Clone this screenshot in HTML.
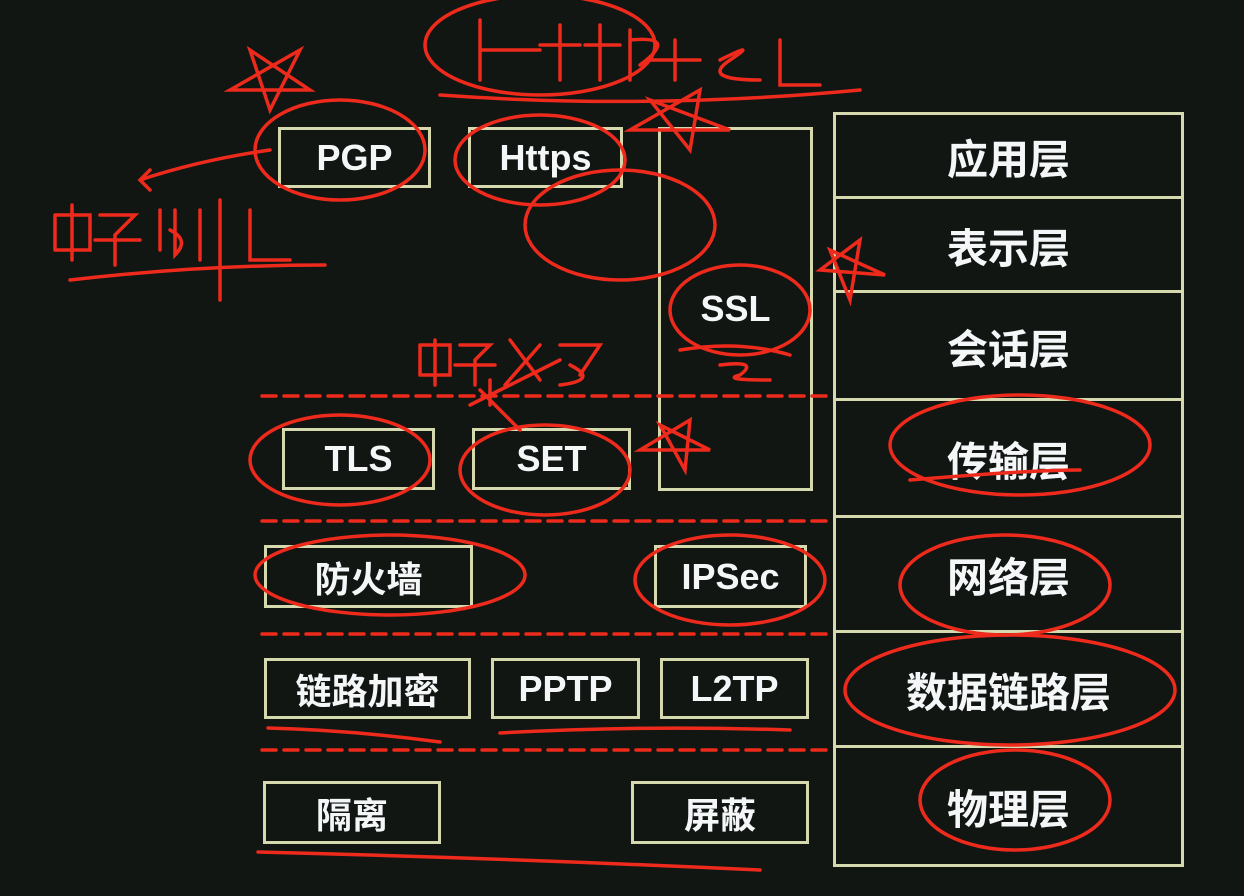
<!DOCTYPE html>
<html><head><meta charset="utf-8"><style>
body{margin:0;width:1244px;height:896px;background:#111613;overflow:hidden;position:relative;font-family:"Liberation Sans","Noto Sans CJK SC",sans-serif}
.b{position:absolute;box-sizing:border-box;border:3px solid #d6d8ae;color:#f4f6f8;font-weight:bold;display:flex;align-items:center;justify-content:center;font-size:36px}
.r{font-size:41px}
svg{position:absolute;left:0;top:0}
</style></head><body>
<div class="b r" style="left:833px;top:112px;width:351px;height:87px">应用层</div>
<div class="b r" style="left:833px;top:196px;width:351px;height:97px">表示层</div>
<div class="b r" style="left:833px;top:290px;width:351px;height:111px">会话层</div>
<div class="b r" style="left:833px;top:398px;width:351px;height:120px">传输层</div>
<div class="b r" style="left:833px;top:515px;width:351px;height:118px">网络层</div>
<div class="b r" style="left:833px;top:630px;width:351px;height:118px">数据链路层</div>
<div class="b r" style="left:833px;top:745px;width:351px;height:122px">物理层</div>
<div class="b" style="left:658px;top:127px;width:155px;height:364px">SSL</div>
<div class="b" style="left:278px;top:127px;width:153px;height:61px">PGP</div>
<div class="b" style="left:468px;top:127px;width:155px;height:61px">Https</div>
<div class="b" style="left:282px;top:428px;width:153px;height:62px">TLS</div>
<div class="b" style="left:472px;top:428px;width:159px;height:62px">SET</div>
<div class="b" style="left:264px;top:545px;width:209px;height:63px">防火墙</div>
<div class="b" style="left:654px;top:545px;width:153px;height:63px">IPSec</div>
<div class="b" style="left:264px;top:658px;width:207px;height:61px">链路加密</div>
<div class="b" style="left:491px;top:658px;width:149px;height:61px">PPTP</div>
<div class="b" style="left:660px;top:658px;width:149px;height:61px">L2TP</div>
<div class="b" style="left:263px;top:781px;width:178px;height:63px">隔离</div>
<div class="b" style="left:631px;top:781px;width:178px;height:63px">屏蔽</div>
<svg width="1244" height="896" fill="none" stroke="#ee2a1c" stroke-width="3.5" stroke-linecap="round">
<g stroke-dasharray="14 8"><path d="M262 396H830"/><path d="M262 521H830"/><path d="M262 634H830"/><path d="M262 750H830"/></g>
<ellipse cx="340" cy="150" rx="85" ry="50"/>
<ellipse cx="540" cy="160" rx="85" ry="45"/>
<ellipse cx="620" cy="225" rx="95" ry="55"/>
<ellipse cx="740" cy="310" rx="70" ry="45"/>
<ellipse cx="340" cy="460" rx="90" ry="45"/>
<ellipse cx="545" cy="470" rx="85" ry="45"/>
<ellipse cx="390" cy="575" rx="135" ry="40"/>
<ellipse cx="730" cy="580" rx="95" ry="45"/>
<ellipse cx="1020" cy="445" rx="130" ry="50"/>
<ellipse cx="1005" cy="585" rx="105" ry="50"/>
<ellipse cx="1010" cy="690" rx="165" ry="55"/>
<ellipse cx="1015" cy="800" rx="95" ry="50"/>
<ellipse cx="540" cy="45" rx="115" ry="50"/>
<path d="M480 20V80M480 50H540M560 25V80M540 45H580M600 25V80M585 45H620M630 30V80M630 40Q680 35 640 65M650 60H700M675 40V80M720 60Q760 40 730 60Q700 80 760 80M780 40V85H820M440 95Q650 110 860 90"/>
<path d="M230 90L300 50L270 110L250 50L310 90Z"/>
<path d="M630 130L700 90L690 150L650 100L730 130Z"/>
<path d="M820 270L860 240L850 300L830 250L885 275Z"/>
<path d="M640 450L690 420L685 470L660 425L710 450Z"/>
<path d="M270 150Q200 160 140 180M150 170L140 180L150 190"/>
<path d="M55 215V250M55 215H90V250H55M72 205V260M100 215H135L115 235V265M95 240H140M160 210V250M175 210V255Q190 240 170 230M200 210V260M220 200V300M250 210V260H290M70 280Q200 265 325 265"/>
<path d="M420 345V375M420 345H450V375H420M435 340V385M460 345H490L475 360V385M455 365H495M510 340L540 380M540 345L505 385M560 345H600L580 375M570 365Q600 380 560 385M470 405Q520 380 560 360M490 380V405M480 390L520 430"/>
<path d="M680 350Q740 340 790 355M720 365Q760 360 740 375Q720 380 770 380"/>
<path d="M910 480Q1030 470 1080 470"/>
<path d="M268 728Q350 730 440 742M500 733Q640 725 790 730M258 852Q500 858 760 870"/>
</svg>
</body></html>
